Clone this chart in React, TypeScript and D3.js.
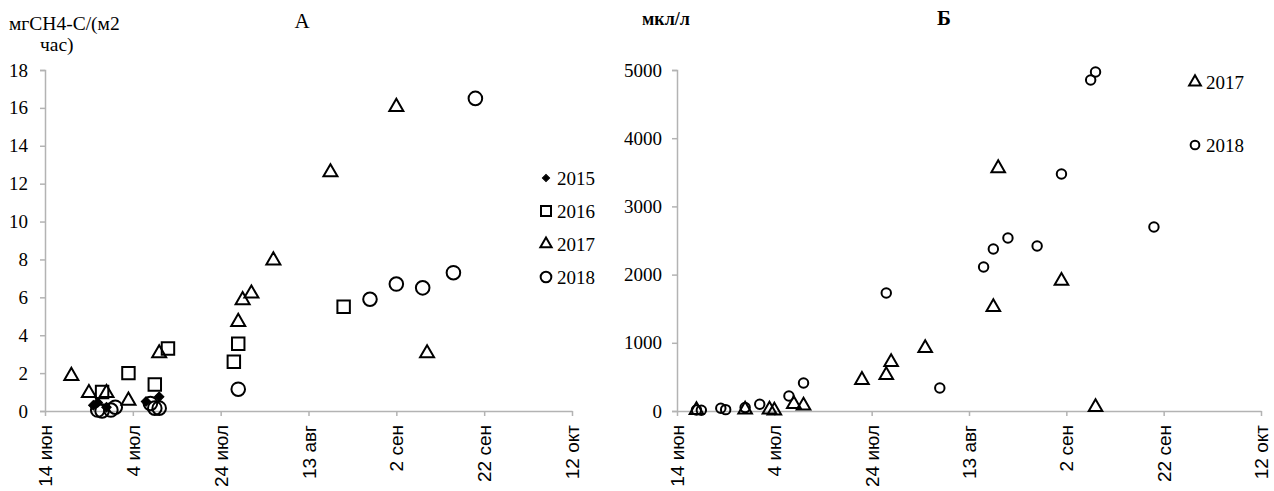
import { useEffect, useRef } from "react";
import * as d3 from "d3";

// x axis: dates (year is irrelevant, 2018 used for parsing)
const tickDates = ["06-14", "07-04", "07-24", "08-13", "09-02", "09-22", "10-12"];
const tickLabels = ["14 июн", "4 июл", "24 июл", "13 авг", "2 сен", "22 сен", "12 окт"];

// panel A - flux, мгCH4-C/(м2 час)
const fluxTicks = [0, 2, 4, 6, 8, 10, 12, 14, 16, 18];
const fluxDates2015 = ["06-25", "06-26", "06-28", "07-07", "07-10"];
const flux2015 = [0.3, 0.45, 0.2, 0.5, 0.75];
const fluxDates2016 = ["06-27", "07-03", "07-09", "07-12", "07-27", "07-28", "08-21"];
const flux2016 = [1.0, 2.0, 1.4, 3.3, 2.6, 3.55, 5.5];
const fluxDates2017 = ["06-20", "06-24", "06-28", "07-03", "07-10", "07-28", "07-29", "07-31", "08-05", "08-18", "09-02", "09-09"];
const flux2017 = [1.85, 0.95, 0.95, 0.55, 3.05, 4.7, 5.85, 6.2, 7.95, 12.6, 16.05, 3.05];
const fluxDates2018 = ["06-26", "06-27", "06-29", "06-30", "07-08", "07-09", "07-10", "07-28", "08-27", "09-02", "09-08", "09-15", "09-20"];
const flux2018 = [0.05, 0, 0.05, 0.2, 0.4, 0.15, 0.15, 1.15, 5.9, 6.7, 6.5, 7.3, 16.5];

// panel Б - мкл/л
const gasTicks = [0, 1000, 2000, 3000, 4000, 5000];
const gasDates2017 = ["06-18", "06-28", "07-03", "07-04", "07-08", "07-10", "07-22", "07-27", "07-28", "08-04", "08-18", "08-19", "09-01", "09-08"];
const gas2017 = [15, 20, 20, 5, 100, 80, 455, 528, 718, 924, 1525, 3560, 1910, 59];
const gasDates2018 = ["06-18", "06-19", "06-23", "06-24", "06-28", "07-01", "07-07", "07-10", "07-27", "08-07", "08-16", "08-18", "08-21", "08-27", "09-01", "09-07", "09-08", "09-20"];
const gas2018 = [15, 10, 40, 20, 50, 100, 220, 410, 1730, 337, 2111, 2375, 2537, 2420, 3475, 4853, 4970, 2698];

const parse = (s: string) => d3.timeParse("%Y-%m-%d")("2018-" + s) as Date;

const SERIF = "'Liberation Serif', 'DejaVu Serif', serif";
const SANS = "'Liberation Sans', Arial, sans-serif";
const AXIS_GRAY = "#b3b3b3";

type Series = {
  name: string;
  dates: string[];
  values: number[];
  symbol: d3.SymbolType;
  size: number;
  legendSize: number;
  rotate?: number;
  filled?: boolean;
};

function drawPanel(svg: any, opt: any) {
  const { x0, x1, y0, y1, yMax, yTicks, series, labelPad, legend } = opt;

  const x = d3.scaleTime()
    .domain([parse(tickDates[0]), parse(tickDates[tickDates.length - 1])])
    .range([x0, x1]);
  const y = d3.scaleLinear().domain([0, yMax]).range([y1, y0]);

  // x axis
  const gx = svg.append("g")
    .attr("transform", "translate(0," + y1 + ")")
    .call(d3.axisBottom(x)
      .tickValues(tickDates.map(parse))
      .tickSize(5)
      .tickSizeOuter(0)
      .tickFormat((d: any, i: number) => tickLabels[i]));
  gx.selectAll("path, line").attr("stroke", AXIS_GRAY).attr("stroke-width", 1.5);
  gx.selectAll("text")
    .attr("transform", "rotate(-90)")
    .attr("x", -14)
    .attr("y", 0)
    .attr("dy", "0.35em")
    .style("text-anchor", "end")
    .style("font-family", SANS)
    .style("font-size", "19px")
    .attr("fill", "#000");

  // y axis
  const gy = svg.append("g")
    .attr("transform", "translate(" + x0 + ",0)")
    .call(d3.axisLeft(y).tickValues(yTicks).tickSize(5).tickPadding(labelPad).tickFormat(d3.format("d")));
  gy.selectAll("path, line").attr("stroke", AXIS_GRAY).attr("stroke-width", 1.5);
  gy.selectAll("text")
    .style("font-family", SERIF)
    .style("font-size", "19px")
    .attr("fill", "#000");

  // markers
  series.forEach((s: Series) => {
    const pts = s.dates.map((d, i) => [x(parse(d)), y(s.values[i])]);
    svg.append("g")
      .selectAll("path")
      .data(pts)
      .join("path")
      .attr("transform", (d: number[]) => "translate(" + d[0] + "," + d[1] + ")" + (s.rotate ? " rotate(" + s.rotate + ")" : ""))
      .attr("d", d3.symbol(s.symbol, s.size)())
      .attr("fill", s.filled ? "#000" : "none")
      .attr("stroke", "#000")
      .attr("stroke-width", s.filled ? 1 : 2);
  });

  // legend
  series.forEach((s: Series, i: number) => {
    const ly = legend.y[i];
    svg.append("path")
      .attr("transform", "translate(" + legend.x + "," + ly + ")" + (s.rotate ? " rotate(" + s.rotate + ")" : ""))
      .attr("d", d3.symbol(s.symbol, s.legendSize)())
      .attr("fill", s.filled ? "#000" : "none")
      .attr("stroke", "#000")
      .attr("stroke-width", s.filled ? 1 : 2);
    svg.append("text")
      .attr("x", legend.x + 11)
      .attr("y", ly)
      .attr("dy", "0.35em")
      .style("font-family", SERIF)
      .style("font-size", "19px")
      .text(s.name);
  });
}

export default function App() {
  const ref = useRef<SVGSVGElement>(null);

  useEffect(() => {
    document.body.style.margin = "0";
    const svg = d3.select(ref.current);
    svg.selectAll("*").remove();

    // Panel A
    drawPanel(svg, {
      x0: 45, x1: 572, y0: 70, y1: 411, yMax: 18, yTicks: fluxTicks, labelPad: 12,
      series: [
        { name: "2015", dates: fluxDates2015, values: flux2015, symbol: d3.symbolSquare, size: 45, legendSize: 26, rotate: 45, filled: true },
        { name: "2016", dates: fluxDates2016, values: flux2016, symbol: d3.symbolSquare, size: 155, legendSize: 100 },
        { name: "2017", dates: fluxDates2017, values: flux2017, symbol: d3.symbolTriangle, size: 85, legendSize: 55 },
        { name: "2018", dates: fluxDates2018, values: flux2018, symbol: d3.symbolCircle, size: 145, legendSize: 90 },
      ],
      legend: { x: 546, y: [178, 211, 244, 277] },
    });

    // Panel Б
    drawPanel(svg, {
      x0: 677, x1: 1261, y0: 70, y1: 411, yMax: 5000, yTicks: gasTicks, labelPad: 10,
      series: [
        { name: "2017", dates: gasDates2017, values: gas2017, symbol: d3.symbolTriangle, size: 80, legendSize: 60 },
        { name: "2018", dates: gasDates2018, values: gas2018, symbol: d3.symbolCircle, size: 70, legendSize: 60 },
      ],
      legend: { x: 1195, y: [82, 145] },
    });

    // titles
    svg.append("text").attr("x", 9).attr("y", 30)
      .style("font-family", SERIF).style("font-size", "19.5px").text("мгCH4-C/(м2");
    svg.append("text").attr("x", 40).attr("y", 51)
      .style("font-family", SERIF).style("font-size", "19.5px").text("час)");
    svg.append("text").attr("x", 302).attr("y", 28).attr("text-anchor", "middle")
      .style("font-family", SERIF).style("font-size", "21px").text("А");
    svg.append("text").attr("x", 642).attr("y", 25)
      .style("font-family", SERIF).style("font-size", "18px").style("font-weight", "bold").text("мкл/л");
    svg.append("text").attr("x", 944).attr("y", 25).attr("text-anchor", "middle")
      .style("font-family", SERIF).style("font-size", "21px").style("font-weight", "bold").text("Б");
  }, []);

  return <svg ref={ref} width={1274} height={491} style={{ display: "block", background: "#fff" }} />;
}
